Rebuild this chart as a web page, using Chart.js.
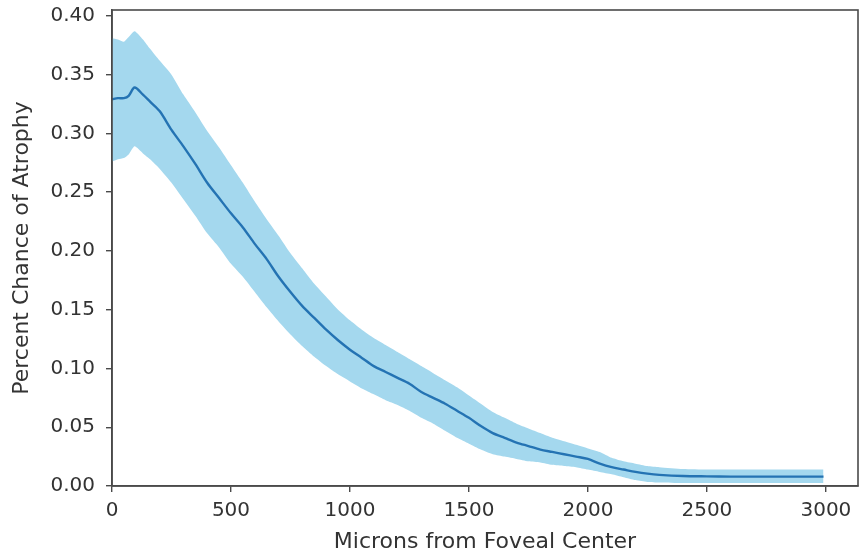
<!DOCTYPE html>
<html><head><meta charset="utf-8">
<script src="https://cdn.jsdelivr.net/npm/chart.js@4/dist/chart.umd.min.js"></script>
<style>html,body{margin:0;padding:0;background:#fff}#wrap{width:860px;height:560px}</style>
</head><body><div id="wrap"><canvas id="c" width="860" height="560"></canvas></div>
<script>
const microns = [0,25,50,70,95,130,160,200,250,300,350,400,450,500,550,600,650,700,750,800,850,900,950,1000,1050,1100,1150,1200,1250,1300,1350,1400,1450,1500,1550,1600,1650,1700,1750,1800,1850,1900,1950,2000,2050,2100,2150,2200,2250,2300,2400,2500,2600,2700,2800,2900,2990];
const meanChance = [0.329,0.330,0.330,0.332,0.339,0.333,0.327,0.319,0.303,0.289,0.274,0.258,0.245,0.232,0.220,0.206,0.193,0.178,0.165,0.153,0.143,0.133,0.124,0.116,0.109,0.102,0.097,0.092,0.087,0.080,0.075,0.070,0.064,0.058,0.051,0.045,0.041,0.037,0.034,0.031,0.029,0.027,0.025,0.023,0.019,0.016,0.014,0.012,0.0105,0.0095,0.0085,0.0082,0.008,0.008,0.008,0.008,0.008];
const upperBound = [0.381,0.380,0.378,0.382,0.387,0.380,0.372,0.362,0.350,0.333,0.318,0.302,0.288,0.273,0.258,0.242,0.227,0.213,0.198,0.185,0.172,0.161,0.150,0.141,0.133,0.126,0.120,0.114,0.108,0.102,0.096,0.090,0.084,0.077,0.070,0.063,0.058,0.053,0.049,0.045,0.041,0.038,0.035,0.032,0.029,0.024,0.021,0.019,0.017,0.016,0.0145,0.014,0.014,0.014,0.014,0.014,0.014];
const lowerBound = [0.276,0.278,0.279,0.282,0.289,0.283,0.278,0.270,0.258,0.244,0.230,0.215,0.203,0.189,0.178,0.165,0.152,0.140,0.129,0.119,0.110,0.102,0.095,0.089,0.083,0.078,0.073,0.069,0.064,0.058,0.053,0.047,0.041,0.036,0.031,0.027,0.025,0.023,0.021,0.020,0.018,0.017,0.016,0.014,0.012,0.010,0.0075,0.005,0.0035,0.003,0.0025,0.0025,0.0025,0.0025,0.0025,0.0025,0.0025];
const xTickValues = [0,500,1000,1500,2000,2500,3000];
const yTickValues = [0,0.05,0.10,0.15,0.20,0.25,0.30,0.35,0.40];
const xTitle = 'Microns from Foveal Center';
const yTitle = 'Percent Chance of Atrophy';

const pts = arr => arr.map((v,i)=>({x:microns[i], y:v}));
const FONT = 'DejaVu Sans';
const TXT = '#333';
const FRAME = '#4a4a4a';

const framePlugin = {
  id:'frame',
  afterDraw(chart){
    const {ctx, chartArea:a} = chart;
    ctx.save();
    ctx.strokeStyle = FRAME; ctx.lineWidth = 1.6;
    ctx.strokeRect(a.left, a.top, a.right-a.left, a.bottom-a.top);
    ctx.restore();
  }
};

new Chart(document.getElementById('c'), {
  type:'line',
  data:{datasets:[
    {label:'upper', data:pts(upperBound), borderWidth:0, pointRadius:0, backgroundColor:'#a4d8ee', borderColor:'rgba(0,0,0,0)', fill:'+1', tension:0.2, order:2},
    {label:'lower', data:pts(lowerBound), borderWidth:0, pointRadius:0, borderColor:'rgba(0,0,0,0)', fill:false, tension:0.2, order:2},
    {label:'mean', data:pts(meanChance), borderWidth:2.4, pointRadius:0, borderColor:'#2473b3', fill:false, tension:0.3, order:1}
  ]},
  options:{
    responsive:false, animation:false,
    layout:{padding:{top:10, right:2, left:0, bottom:0}},
    plugins:{legend:{display:false}, tooltip:{enabled:false}},
    scales:{
      x:{type:'linear', min:0, max:3135,
        afterBuildTicks(s){ s.ticks = xTickValues.map(v=>({value:v})); },
        afterFit(s){ s.height = 74; s.paddingLeft = 0; s.paddingRight = 0; },
        border:{display:true, color:FRAME, width:1.6},
        grid:{drawOnChartArea:false, drawTicks:true, tickLength:6, color:FRAME, lineWidth:1.4},
        ticks:{font:{family:FONT, size:20}, color:TXT, padding:7, maxRotation:0, callback:v=>String(v)},
        title:{display:true, text:xTitle, font:{family:FONT, size:22}, color:TXT, padding:{top:0,bottom:5}}
      },
      y:{type:'linear', min:0, max:0.405,
        afterBuildTicks(s){ s.ticks = yTickValues.map(v=>({value:v})); },
        afterFit(s){ s.width = 112; s.paddingTop = 0; s.paddingBottom = 0; },
        border:{display:true, color:FRAME, width:1.6},
        grid:{drawOnChartArea:false, drawTicks:true, tickLength:6, color:FRAME, lineWidth:1.4},
        ticks:{font:{family:FONT, size:20}, color:TXT, padding:11, callback:v=>Number(v).toFixed(2)},
        title:{display:true, text:yTitle, font:{family:FONT, size:22}, color:TXT, padding:{top:9,bottom:0}}
      }
    }
  },
  plugins:[framePlugin]
});
</script>
</body></html>
